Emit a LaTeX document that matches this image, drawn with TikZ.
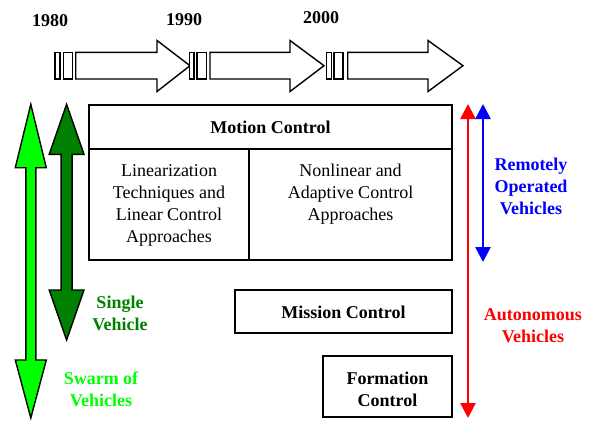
\documentclass[tikz,border=0pt]{standalone}
\usepackage{fontspec}
\setmainfont{Liberation Serif}
\usetikzlibrary{arrows.meta}
\definecolor{lgreen}{RGB}{0,255,0}
\definecolor{dgreen}{RGB}{0,128,0}
\begin{document}
\begin{tikzpicture}[x=1pt,y=-1pt,
  box/.style={draw,line width=1.6pt},
  blk/.style={draw,line width=1.4pt,line join=miter,fill=white},
  dbl/.style={draw,line width=1.4pt,line join=miter},
  lbl/.style={font=\fontsize{18}{22}\selectfont\bfseries,align=center,inner sep=0pt},
  txt/.style={font=\fontsize{18}{22}\selectfont,align=center,inner sep=0pt},
  rng/.style={line width=2.6pt,{Triangle[length=15pt,width=15pt]}-{Triangle[length=15pt,width=15pt]}}]
\useasboundingbox (0,0) rectangle (590,421);
% timeline
\node[lbl] (y1980) at (50,21) {1980};
\node[lbl] (y1990) at (184,20) {1990};
\node[lbl] (y2000) at (321,18) {2000};
\foreach \a/\b/\c/\d/\s/\h/\t in {55/60/63.3/72.3/75.7/157/190, 189.3/194/197/206.7/210/290/324, 326.7/331.7/334/343/347.7/428/463}{
  \draw[blk] (\a,52.3) rectangle (\b,79);
  \draw[blk] (\c,52.3) rectangle (\d,79);
  \draw[blk] (\s,52.3) -- (\h,52.3) -- (\h,40.5) -- (\t,65.7) -- (\h,91.5) -- (\h,79) -- (\s,79) -- cycle;
}
% green double arrows
\draw[dbl,fill=lgreen] (30.8,104.3) -- (46.3,167.7) -- (35.8,167.7) -- (35.8,360) -- (46.3,360) -- (30.8,418) -- (15.3,360) -- (25.8,360) -- (25.8,167.7) -- (15.3,167.7) -- cycle;
\draw[dbl,fill=dgreen] (66.6,104.3) -- (84,154.3) -- (72.1,154.3) -- (72.1,290) -- (84,290) -- (66.6,340) -- (49.2,290) -- (61.1,290) -- (61.1,154.3) -- (49.2,154.3) -- cycle;
% motion control box
\draw[box] (89,105) rectangle (452,260);
\draw[box] (89,149) -- (452,149);
\draw[box] (249,149) -- (249,260);
\node[lbl] (motion) at (270.5,127.5) {Motion Control};
\node[txt] (lin) at (169,205) {Linearization\\Techniques and\\Linear Control\\Approaches};
\node[txt] (nonlin) at (350.5,194) {Nonlinear and\\Adaptive Control\\Approaches};
% mission / formation
\draw[box] (235,290) rectangle (452,333);
\node[lbl] (mission) at (343.5,312) {Mission Control};
\draw[box] (323,356) rectangle (452,417);
\node[lbl] (formation) at (387.5,389.5) {Formation\\Control};
% range arrows
\coordinate (rtop) at (468,104);
\coordinate (rbot) at (468,418);
\coordinate (btop) at (483,104);
\coordinate (bbot) at (483,262);
\draw[rng,red] (rtop) -- (rbot);
\draw[rng,blue] (btop) -- (bbot);
\node[lbl,text=blue] (rov) at (531,186) {Remotely\\Operated\\Vehicles};
\node[lbl,text=red] (auv) at (533,326) {Autonomous\\Vehicles};
\node[lbl,text=dgreen] (single) at (120,313) {Single\\Vehicle};
\node[lbl,text=lgreen] (swarm) at (101,389) {Swarm of\\Vehicles};
\end{tikzpicture}
\end{document}
